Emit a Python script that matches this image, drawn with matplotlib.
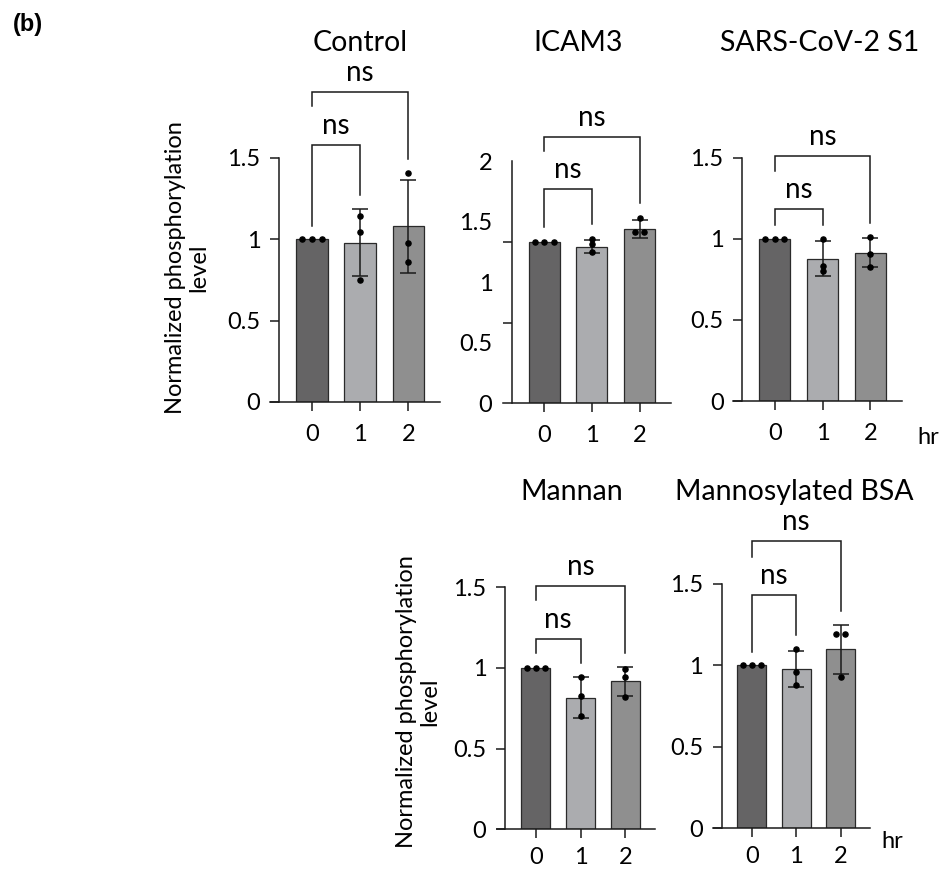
import matplotlib
matplotlib.use("Agg")
import matplotlib.pyplot as plt
import numpy as np

plt.rcParams['font.family'] = ['Lato', 'DejaVu Sans']

# ---------------- data ----------------
hours = ['0', '1', '2']

control_title = 'Control'
control_mean = [1.00, 0.98, 1.08]
control_sd = [0.0, 0.206, 0.287]
control_pts = [[1.0, 1.0, 1.0], [1.145, 1.047, 0.75], [1.406, 0.977, 0.859]]
control_brackets = [(1.58, 1.084, 1.272), (1.907, 1.819, 1.492)]

icam3_title = 'ICAM3'
icam3_mean = [1.00, 0.97, 1.08]
icam3_sd = [0.0, 0.042, 0.056]
icam3_pts = [[1.0, 1.0, 1.0], [1.019, 0.986, 0.934], [1.145, 1.058, 1.058]]
icam3_brackets = [(1.324, 1.089, 1.11), (1.65, 1.561, 1.241)]
icam3_tick_labels = ['0', '0.5', '1', '1.5', '2']

sars_title = 'SARS-CoV-2 S1'
sars_mean = [1.00, 0.876, 0.914]
sars_sd = [0.0, 0.108, 0.09]
sars_pts = [[1.0, 1.0, 1.0], [0.997, 0.832, 0.80], [1.009, 0.906, 0.828]]
sars_brackets = [(1.186, 1.087, 1.087), (1.512, 1.42, 1.095)]

mannan_title = 'Mannan'
mannan_mean = [1.00, 0.815, 0.915]
mannan_sd = [0.0, 0.126, 0.087]
mannan_pts = [[1.0, 1.0, 1.0], [0.94, 0.825, 0.70], [0.99, 0.94, 0.82]]
mannan_brackets = [(1.178, 1.09, 1.032), (1.507, 1.42, 1.09)]

mbsa_title = 'Mannosylated BSA'
mbsa_mean = [1.00, 0.978, 1.10]
mbsa_sd = [0.0, 0.112, 0.15]
mbsa_pts = [[1.0, 1.0, 1.0], [1.10, 0.96, 0.882], [1.19, 1.19, 0.93]]
mbsa_brackets = [(1.431, 1.084, 1.187), (1.763, 1.664, 1.336)]

sig_label = 'ns'
y_ticks = [0, 0.5, 1, 1.5]
y_tick_labels = ['0', '0.5', '1', '1.5']
ylabel_text = 'Normalized phosphorylation\nlevel'

bar_colors = ['#656465', '#ABACAF', '#8F8F8F']

# ---------------- layout ----------------
W, H = 953, 874
fig = plt.figure(figsize=(W / 100, H / 100), dpi=100)

LINE = '#1a1a1a'
TICK_FS = 17
TITLE_FS = 20.5
NS_FS = 20

def px_rect(x0, x1, y_bottom, y_top):
    return [x0 / W, 1 - y_bottom / H, (x1 - x0) / W, (y_bottom - y_top) / H]

def spread(vals, step=0.2):
    offs = np.zeros(len(vals))
    vals = np.asarray(vals)
    for v in np.unique(vals):
        idx = np.where(np.isclose(vals, v))[0]
        n = len(idx)
        if n > 1:
            offs[idx] = (np.arange(n) - (n - 1) / 2) * step
    return offs

def panel(rect, mean, sd, pts, brackets, icam=False, xpad=8):
    ax = fig.add_axes(rect)
    x = np.arange(len(hours))
    ax.bar(x, mean, width=0.65, color=bar_colors, edgecolor='#2a2a2a',
           linewidth=0.9, zorder=2)
    for i in range(len(hours)):
        if sd[i] > 0:
            ax.errorbar(x[i], mean[i], yerr=sd[i], fmt='none', ecolor=LINE,
                        elinewidth=1.1, capsize=6, capthick=1.1, zorder=3)
        offs = spread(pts[i])
        ax.plot(x[i] + offs, pts[i], 'o', color='black', markersize=3.7,
                zorder=4, clip_on=False)
    ax.set_xlim(-0.87, 2.66)
    ax.set_ylim(0, 1.5)
    for s in ['top', 'right']:
        ax.spines[s].set_visible(False)
    ax.spines['left'].set_position(('data', -0.68))
    for s in ['left', 'bottom']:
        ax.spines[s].set_linewidth(1.1)
        ax.spines[s].set_color(LINE)
    ax.set_xticks(x)
    ax.set_xticklabels(hours)
    ax.tick_params(axis='x', length=6.5, width=1.1, color=LINE, pad=xpad,
                   labelsize=TICK_FS)
    if icam:
        pos = np.linspace(0, 1.5, len(icam3_tick_labels))
        ax.set_yticks(pos)
        ax.set_yticklabels(icam3_tick_labels)
        ax.tick_params(axis='y', which='major', length=0, pad=14,
                       labelsize=TICK_FS)
        ax.set_yticks(y_ticks, minor=True)
        ax.tick_params(axis='y', which='minor', length=6.5, width=1.1,
                       color=LINE)
    else:
        ax.set_yticks(y_ticks)
        ax.set_yticklabels(y_tick_labels)
        ax.tick_params(axis='y', length=6.5, width=1.1, color=LINE, pad=7,
                       labelsize=TICK_FS)
    # significance brackets
    for (j, (yh, yl, yr)) in zip([1, 2], brackets):
        ax.plot([0, 0, j, j], [yl, yh, yh, yr], color=LINE, lw=1.1,
                clip_on=False, zorder=5, solid_joinstyle='miter')
        ax.annotate(sig_label, xy=(j / 2, yh), xytext=(0, 8),
                    textcoords='offset points', ha='center', va='baseline',
                    fontsize=NS_FS, annotation_clip=False)
    return ax

panel(px_rect(270, 440, 402, 158), control_mean, control_sd, control_pts, control_brackets, xpad=9)
panel(px_rect(502.7, 671, 403.3, 161), icam3_mean, icam3_sd, icam3_pts, icam3_brackets, icam=True, xpad=9)
panel(px_rect(733.3, 901.7, 401, 157.7), sars_mean, sars_sd, sars_pts, sars_brackets, xpad=9)
panel(px_rect(496.7, 655, 829.3, 587), mannan_mean, mannan_sd, mannan_pts, mannan_brackets, xpad=6)
panel(px_rect(713.3, 870, 828.3, 584), mbsa_mean, mbsa_sd, mbsa_pts, mbsa_brackets, xpad=6)

def ftext(xp, yp, s, **kw):
    fig.text(xp / W, 1 - yp / H, s, **kw)

# titles (baseline positions)
ftext(360, 51, control_title, ha='center', va='baseline', fontsize=TITLE_FS)
ftext(578, 51, icam3_title, ha='center', va='baseline', fontsize=TITLE_FS)
ftext(820, 51, sars_title, ha='center', va='baseline', fontsize=TITLE_FS)
ftext(572, 500, mannan_title, ha='center', va='baseline', fontsize=TITLE_FS)
ftext(794, 500, mbsa_title, ha='center', va='baseline', fontsize=TITLE_FS)

# y labels
ftext(187, 268, ylabel_text, rotation=90, ha='center', va='center',
      multialignment='center', fontsize=TICK_FS, linespacing=1.15)
ftext(418, 702, ylabel_text, rotation=90, ha='center', va='center',
      multialignment='center', fontsize=TICK_FS, linespacing=1.15)

# hr labels
ftext(928, 437, 'hr', ha='center', va='center', fontsize=TICK_FS)
ftext(892, 842, 'hr', ha='center', va='center', fontsize=TICK_FS)

# panel letter
ftext(28, 24, '(b)', ha='center', va='center', fontsize=17, fontweight='bold',
      family=['Liberation Sans', 'DejaVu Sans'])

fig.savefig('out.png', dpi=100)
